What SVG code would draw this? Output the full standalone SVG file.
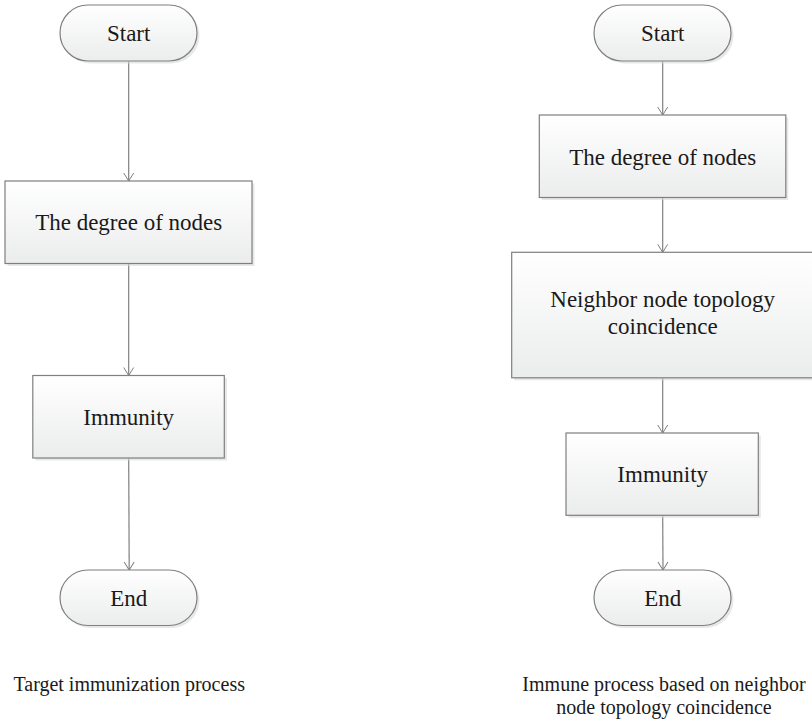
<svg xmlns="http://www.w3.org/2000/svg" width="812" height="722" viewBox="0 0 812 722">
<defs>
<linearGradient id="g" x1="0" y1="0" x2="0" y2="1">
<stop offset="0" stop-color="#ffffff"/>
<stop offset="1" stop-color="#ebecec"/>
</linearGradient>
<marker id="arr" markerWidth="12" markerHeight="14" viewBox="-10 -7 12 14" refX="0" refY="0" orient="auto" markerUnits="userSpaceOnUse">
<path d="M-8,-5 L0,0 L-8,5" fill="none" stroke="#808080" stroke-width="1"/>
</marker>
</defs>
<style>
.n{fill:url(#g);stroke:#7f7f7f;stroke-width:1.2}
.sh{fill:#d8d8d8;opacity:0.6}
.t{font-family:"Liberation Serif","Times New Roman",serif;font-size:23px;fill:#1a1a1a;text-anchor:middle}
.c{font-family:"Liberation Serif","Times New Roman",serif;font-size:20px;fill:#1a1a1a;text-anchor:middle}
.e{stroke:#808080;stroke-width:1.2;fill:none;marker-end:url(#arr)}
</style>
<rect width="812" height="722" fill="#ffffff"/>
<g id="connectors">
<line class="e" x1="128.7" y1="61" x2="128.7" y2="181"/>
<line class="e" x1="128.7" y1="263.5" x2="128.7" y2="375.5"/>
<line class="e" x1="128.7" y1="458" x2="129.2" y2="570"/>
<line class="e" x1="662.7" y1="61" x2="662.7" y2="115"/>
<line class="e" x1="662.7" y1="197.5" x2="662.7" y2="252.3"/>
<line class="e" x1="662.7" y1="377.7" x2="662.7" y2="433"/>
<line class="e" x1="662.7" y1="515.3" x2="663" y2="570"/>
</g>
<g id="l-start">
<rect class="sh" x="62.5" y="7.5" width="137" height="56" rx="28"/>
<rect class="n" x="60" y="5" width="137" height="56" rx="28"/>
<text class="t" x="128.7" y="41">Start</text>
</g>
<g id="l-degree">
<rect class="sh" x="7.5" y="183.5" width="247" height="82.5"/>
<rect class="n" x="5" y="181" width="247" height="82.5"/>
<text class="t" x="128.7" y="230">The degree of nodes</text>
</g>
<g id="l-immunity">
<rect class="sh" x="35.5" y="378" width="191.5" height="82.5"/>
<rect class="n" x="32.8" y="375.5" width="191.5" height="82.5"/>
<text class="t" x="128.7" y="424.5">Immunity</text>
</g>
<g id="l-end">
<rect class="sh" x="62.5" y="572.5" width="137" height="55.5" rx="28"/>
<rect class="n" x="60" y="570" width="137" height="55.5" rx="28"/>
<text class="t" x="128.7" y="605.5">End</text>
</g>
<g id="l-caption">
<text class="c" x="129.2" y="690.5">Target immunization process</text>
</g>
<g id="r-start">
<rect class="sh" x="596.5" y="7.5" width="137" height="56" rx="28"/>
<rect class="n" x="594" y="5" width="137" height="56" rx="28"/>
<text class="t" x="662.7" y="41">Start</text>
</g>
<g id="r-degree">
<rect class="sh" x="541.8" y="117.5" width="246.5" height="82.5"/>
<rect class="n" x="539.3" y="115" width="246.5" height="82.5"/>
<text class="t" x="662.7" y="164.5">The degree of nodes</text>
</g>
<g id="r-neighbor">
<rect class="sh" x="514.2" y="254.8" width="302" height="125.5"/>
<rect class="n" x="511.7" y="252.3" width="302" height="125.5"/>
<text class="t" x="662.7" y="307">Neighbor node topology</text>
<text class="t" x="662.7" y="334">coincidence</text>
</g>
<g id="r-immunity">
<rect class="sh" x="568.5" y="435.5" width="192.3" height="82.3"/>
<rect class="n" x="566" y="433" width="192.3" height="82.3"/>
<text class="t" x="662.7" y="482">Immunity</text>
</g>
<g id="r-end">
<rect class="sh" x="596.5" y="572.5" width="137" height="55.5" rx="28"/>
<rect class="n" x="594" y="570" width="137" height="55.5" rx="28"/>
<text class="t" x="662.7" y="605.5">End</text>
</g>
<g id="r-caption">
<text class="c" x="664" y="690.5">Immune process based on neighbor</text>
<text class="c" x="664" y="713.5">node topology coincidence</text>
</g>
</svg>
